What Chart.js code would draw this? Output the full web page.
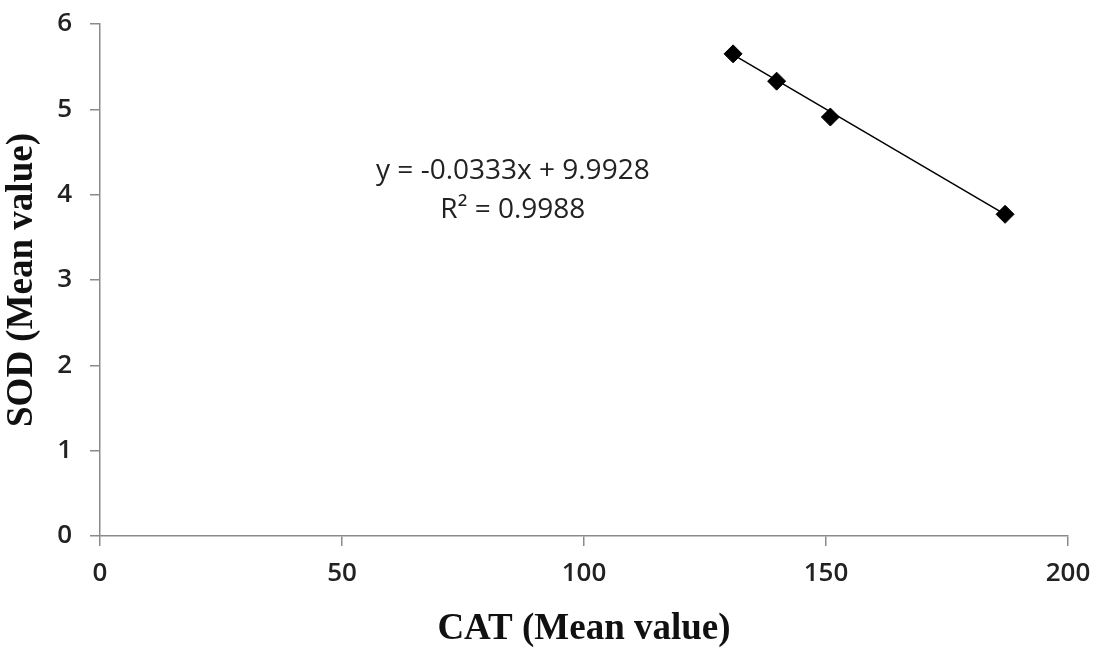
<!DOCTYPE html>
<html>
<head>
<meta charset="UTF-8">
<title>SOD vs CAT</title>
<script src="https://cdn.jsdelivr.net/npm/chart.js"></script>
<style>
  html, body { margin: 0; padding: 0; background: #fff; }
  #wrap { width: 1095px; height: 648px; }
</style>
</head>
<body>
<div id="wrap"><canvas id="scatterChart" width="1095" height="648"></canvas></div>
<script>
    // values
    const catValues = [130.8, 139.8, 150.9, 187.0];
    const sodValues = [5.65, 5.33, 4.91, 3.77];

    // trendline ends (as drawn in the picture)
    const trendX = [130.8, 187.0];
    const trendY = [5.64, 3.77];

    const xTicks = [0, 50, 100, 150, 200];
    const yTicks = [0, 1, 2, 3, 4, 5, 6];

    const eqLines = ['y = -0.0333x + 9.9928', 'R² = 0.9988'];
    const eqAt = { x: 85.3, y: [4.28, 3.82] };

    const points = catValues.map((v, i) => ({ x: v, y: sodValues[i] }));
    const trend = trendX.map((v, i) => ({ x: v, y: trendY[i] }));

    const tickFont = { family: '"Open Sans", Lato, sans-serif', size: 26, weight: '600' };
    const titleFont = { family: '"Liberation Serif", "Times New Roman", serif', size: 37, weight: 'bold' };

    // writes the trendline equation at data coordinates
    const equationLabel = {
        id: 'equationLabel',
        afterDatasetsDraw(chart) {
            const c = chart.ctx;
            const xs = chart.scales.x, ys = chart.scales.y;
            c.save();
            c.fillStyle = '#222';
            c.font = '28px "Open Sans", Lato, sans-serif';
            c.textAlign = 'center';
            c.textBaseline = 'middle';
            eqLines.forEach((t, i) => {
                c.fillText(t, xs.getPixelForValue(eqAt.x), ys.getPixelForValue(eqAt.y[i]));
            });
            c.restore();
        }
    };

    new Chart(document.getElementById('scatterChart'), {
        type: 'scatter',
        data: {
            datasets: [{
                label: 'Trend',
                data: trend,
                showLine: true,
                borderColor: '#000',
                borderWidth: 1.5,
                pointRadius: 0,
                order: 2
            }, {
                label: 'SOD',
                data: points,
                pointStyle: 'rectRot',
                pointRadius: 9,
                pointHoverRadius: 9,
                backgroundColor: '#000',
                borderColor: '#000',
                order: 1
            }]
        },
        options: {
            responsive: false,
            animation: false,
            layout: { padding: { top: 24, right: 27, left: 0, bottom: 0 } },
            plugins: { legend: { display: false }, tooltip: { enabled: false } },
            scales: {
                x: {
                    type: 'linear',
                    min: 0, max: 200,
                    afterBuildTicks: s => { s.ticks = xTicks.map(v => ({ value: v })); },
                    afterFit: s => { s.height = 112; s.paddingLeft = 0; s.paddingRight = 0; },
                    grid: { drawOnChartArea: false, drawTicks: true, tickLength: 10, color: '#8a8a8a', lineWidth: 1.5 },
                    border: { color: '#8a8a8a', width: 1.5 },
                    ticks: { font: tickFont, color: '#222', padding: 12, maxRotation: 0 },
                    title: { display: true, text: 'CAT (Mean value)', font: titleFont, color: '#111', padding: { top: 0, bottom: -4 } }
                },
                y: {
                    type: 'linear',
                    min: 0, max: 6,
                    afterBuildTicks: s => { s.ticks = yTicks.map(v => ({ value: v })); },
                    afterFit: s => { s.width = 100; s.paddingTop = 0; s.paddingBottom = 0; },
                    grid: { drawOnChartArea: false, drawTicks: true, tickLength: 10, color: '#8a8a8a', lineWidth: 1.5 },
                    border: { color: '#8a8a8a', width: 1.5 },
                    ticks: { font: tickFont, color: '#222', padding: 18 },
                    title: { display: true, text: 'SOD (Mean value)', font: titleFont, color: '#111', padding: { top: 0, bottom: 0 } }
                }
            }
        },
        plugins: [equationLabel]
    });
</script>
</body>
</html>
